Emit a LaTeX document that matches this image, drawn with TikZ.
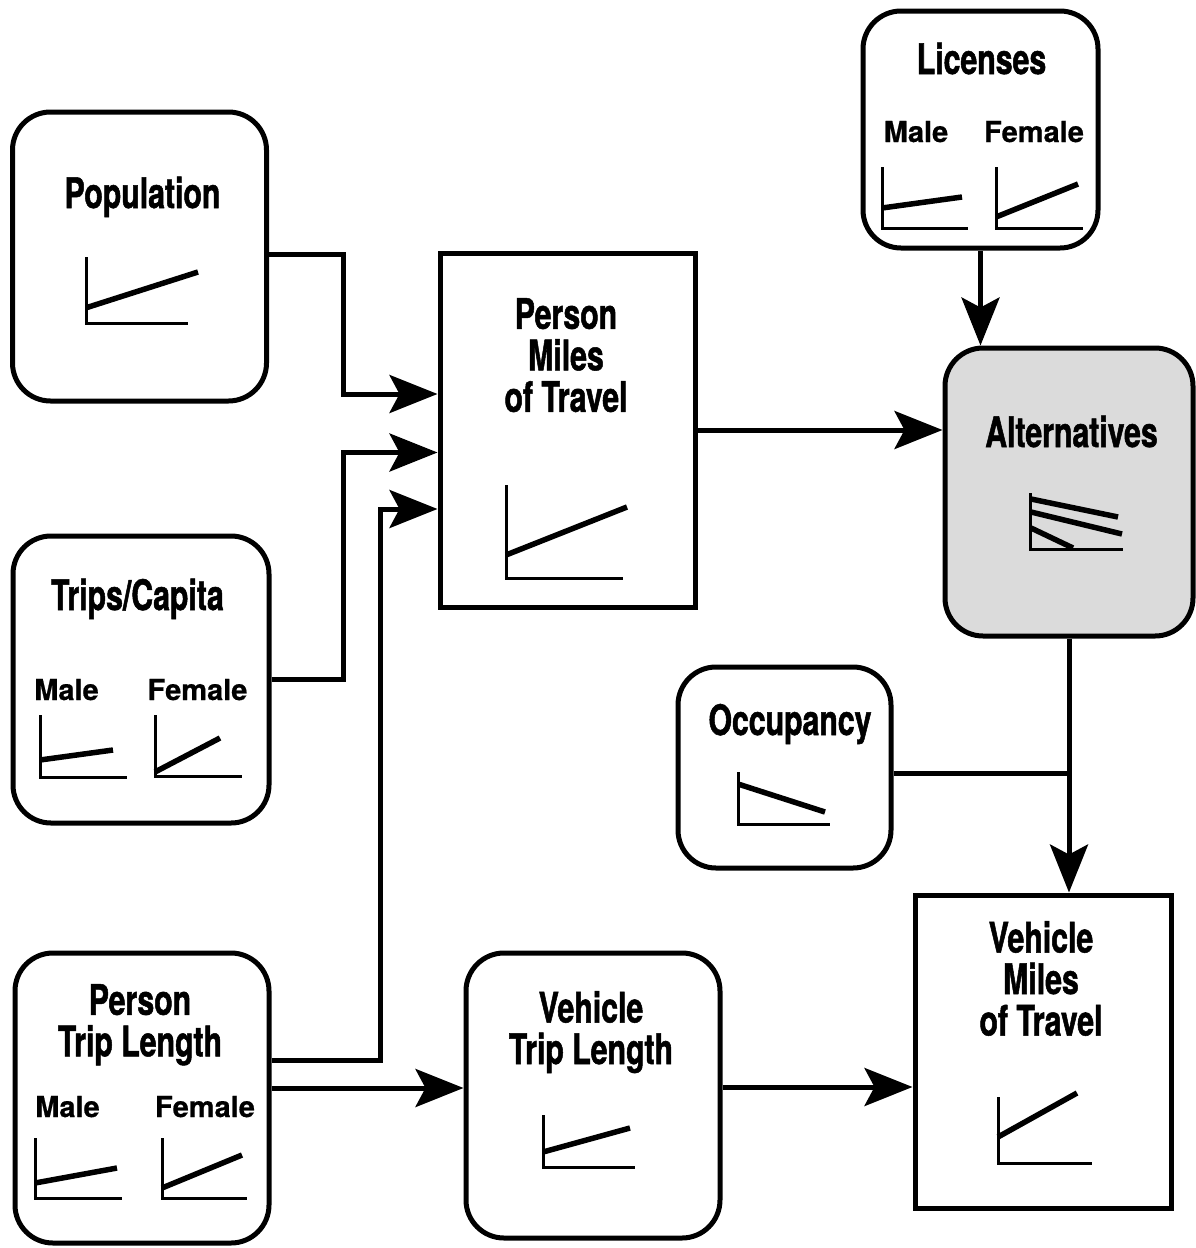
\documentclass[tikz,border=0pt]{standalone}
\usepackage{fontspec}
\setmainfont[FakeBold=0.6]{TeX Gyre Heros}
\newfontfamily\titlefont[FakeStretch=0.72, FakeBold=1.2]{TeX Gyre Heros}
\usetikzlibrary{arrows.meta}
\definecolor{altgray}{gray}{0.86}
\tikzset{
  box/.style={draw, line width=5pt, inner sep=0pt, fill=white},
  rbox/.style={box, rounded corners=38pt},
  ttl/.style={font=\titlefont\bfseries\fontsize{42}{41.5}\selectfont, inner sep=0pt, align=center},
  sub/.style={font=\bfseries\fontsize{29}{30}\selectfont, inner sep=0pt},
  ax/.style={line width=3pt},
  dl/.style={line width=5.5pt},
  conn/.style={line width=5pt, line join=miter},
  arr/.style={conn, -{Stealth[length=48pt,width=38pt,inset=10pt]}},
}
\begin{document}
\begin{tikzpicture}[x=1pt, y=-1pt]
\useasboundingbox (0,0) rectangle (1196,1248);

% boxes
\node[rbox, minimum width=254pt, minimum height=289pt] (pop) at (139.5,256.5) {};
\node[rbox, minimum width=256pt, minimum height=287pt] (trips) at (141,679.5) {};
\node[rbox, minimum width=254pt, minimum height=290pt] (ptl) at (142,1098) {};
\node[box, minimum width=255pt, minimum height=354pt] (pmt) at (567.5,430) {};
\node[rbox, minimum width=235pt, minimum height=237pt] (lic) at (980.5,129.5) {};
\node[rbox, fill=altgray, minimum width=248pt, minimum height=288pt] (alt) at (1069,492) {};
\node[rbox, minimum width=213pt, minimum height=201pt] (occ) at (784.5,767.5) {};
\node[rbox, minimum width=254pt, minimum height=285pt] (vtl) at (593,1095.5) {};
\node[box, minimum width=256pt, minimum height=313pt] (vmt) at (1043,1051.5) {};

% texts
\node[ttl, anchor=base] (popT) at (142.5,208) {Population};
\node[ttl, anchor=base] (tripsT) at (137.5,610) {Trips/Capita};
\node[sub, anchor=base] (tripsM) at (66.5,700) {Male};
\node[sub, anchor=base] (tripsF) at (197.5,700) {Female};
\node[ttl, anchor=north] (ptlT) at (140,984) {Person\\Trip Length};
\node[sub, anchor=base] (ptlM) at (67.5,1117) {Male};
\node[sub, anchor=base] (ptlF) at (205,1117) {Female};
\node[ttl, anchor=north] (pmtT) at (566,298) {Person\\Miles\\of Travel};
\node[ttl, anchor=base] (licT) at (981.5,74) {Licenses};
\node[sub, anchor=base] (licM) at (916,142) {Male};
\node[sub, anchor=base] (licF) at (1034,142) {Female};
\node[ttl, anchor=base] (altT) at (1071.5,447) {Alternatives};
\node[ttl, anchor=base] (occT) at (790,735) {Occupancy};
\node[ttl, anchor=north] (vtlT) at (591,991) {Vehicle\\Trip Length};
\node[ttl, anchor=north] (vmtT) at (1041,921) {Vehicle\\Miles\\of Travel};

% mini charts
% population
\draw[ax] (86.5,257) |- (188,323.5);
\draw[dl] (87,307.5) -- (198,272);
% trips male / female
\draw[ax] (40,715) |- (127,777);
\draw[dl] (40,760) -- (113,750);
\draw[ax] (155,715) |- (242,776);
\draw[dl] (155,772) -- (220,738);
% person trip length male / female
\draw[ax] (35,1138) |- (122,1198.5);
\draw[dl] (35,1183) -- (117,1168);
\draw[ax] (162,1138) |- (247,1198.5);
\draw[dl] (162,1188) -- (242,1155);
% person miles of travel
\draw[ax] (506,485) |- (623,578);
\draw[dl] (506,555) -- (627,507);
% licenses male / female
\draw[ax] (882,167) |- (968,228);
\draw[dl] (882,208) -- (962,197);
\draw[ax] (996,167) |- (1083,228);
\draw[dl] (996,217) -- (1078,184);
% alternatives
\draw[ax] (1030,493) |- (1123,549);
\draw[dl] (1031,499) -- (1118,517);
\draw[dl] (1031,512) -- (1122,534);
\draw[dl] (1031,528) -- (1073,548);
% occupancy
\draw[ax] (738,772) |- (830,824);
\draw[dl] (738,784) -- (825,812);
% vehicle trip length
\draw[ax] (543,1115) |- (635,1167);
\draw[dl] (543,1152) -- (630,1128);
% vehicle miles of travel
\draw[ax] (998,1097) |- (1092,1163);
\draw[dl] (998,1137) -- (1077,1093);

% connectors
\draw[arr] ([yshift=2.5pt]pop.east) -- ++(74,0) |- ([yshift=36pt]pmt.west);
\draw[arr] (trips.east) -- ++(71.5,0) |- ([yshift=-22.5pt]pmt.west);
\draw[arr] ([yshift=37.5pt]ptl.east) -- ++(109,0) |- ([yshift=-79pt]pmt.west);
\draw[arr] ([yshift=10pt]ptl.east) -- ([yshift=10pt]ptl.east -| vtl.west);
\draw[arr] (pmt.east) -- (pmt.east -| alt.west);
\draw[arr] (lic.south) -- (lic.south |- alt.north);
\draw[arr] (alt.south) -- (alt.south |- vmt.north);
\draw[conn] ([yshift=-5.5pt]occ.east) -- ([yshift=-5.5pt]occ.east -| alt.south);
\draw[arr] ([yshift=8.5pt]vtl.east) -- ([yshift=8.5pt]vtl.east -| vmt.west);
\end{tikzpicture}
\end{document}
